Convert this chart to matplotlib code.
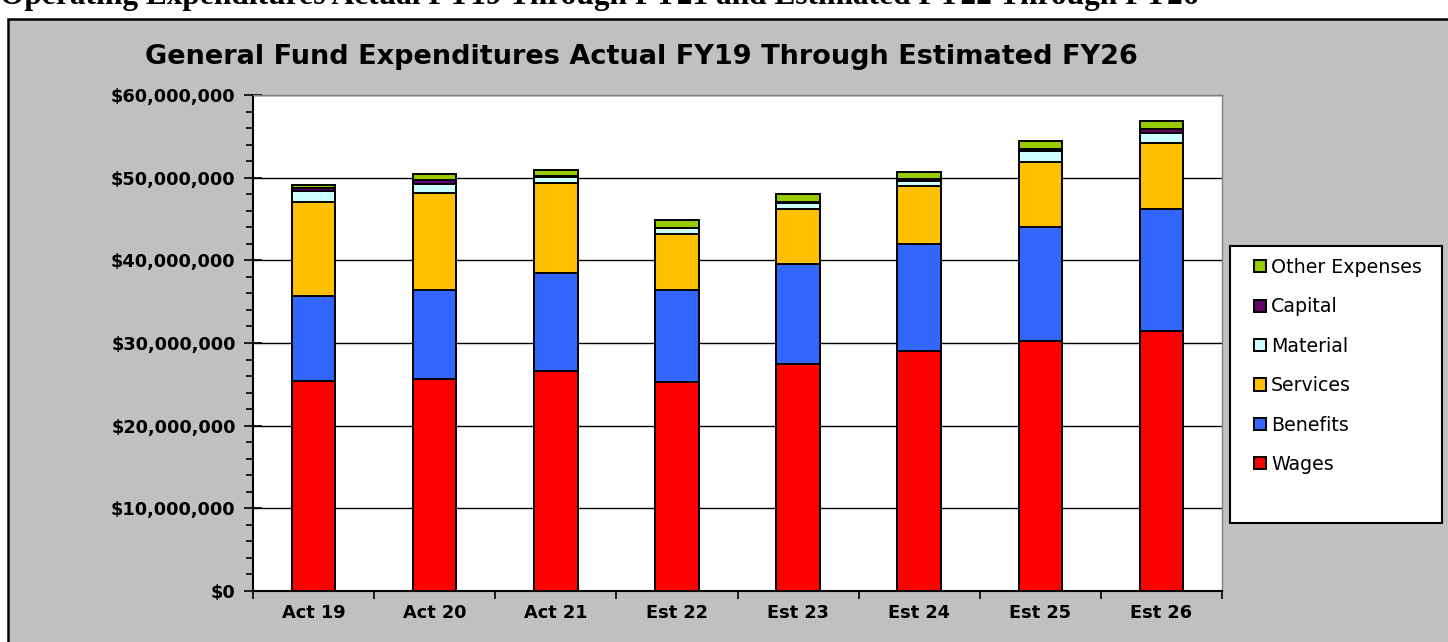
import matplotlib
matplotlib.use("Agg")
import matplotlib.pyplot as plt
import numpy as np
from matplotlib.patches import Rectangle
from matplotlib.ticker import FuncFormatter, MultipleLocator

years = ["Act 19", "Act 20", "Act 21", "Est 22", "Est 23", "Est 24", "Est 25", "Est 26"]

# values in dollars
wages = [25450000, 25700000, 26660000, 25330000, 27400000, 28990000, 30290000, 31420000]
benefits = [10280000, 10760000, 11820000, 11130000, 12160000, 12940000, 13790000, 14830000]
services = [11280000, 11690000, 10920000, 6770000, 6690000, 7100000, 7860000, 7900000]
material = [1420000, 1090000, 720000, 720000, 690000, 520000, 1290000, 1250000]
capital = [330000, 520000, 50000, 0, 160000, 290000, 280000, 490000]
other = [320000, 720000, 730000, 890000, 880000, 850000, 960000, 1000000]

series = [wages, benefits, services, material, capital, other]
names = ["Wages", "Benefits", "Services", "Material", "Capital", "Other Expenses"]
colors = ["#FF0000", "#3366FF", "#FFC000", "#CCFFFF", "#660066", "#99CC00"]

fig = plt.figure(figsize=(14.48, 6.42), dpi=100)
fig.patch.set_facecolor("white")

# grey chart frame
fig.patches.append(Rectangle((8/1448, -0.01), 1.0, 1-19/642+0.01, transform=fig.transFigure,
                             facecolor="#C0C0C0", edgecolor="black", linewidth=1.8, zorder=-2))

# heading of the page, cut off at the top like in the source
fig.text(0.0, 1-4/642, "Operating Expenditures Actual FY19 Through FY21 and Estimated FY22 Through FY26",
         fontsize=22.6, fontweight="bold", family="Liberation Serif", va="baseline", ha="left")

ax = fig.add_axes([253/1448, 1-591/642, (1222-253)/1448, (591-95)/642])
ax.set_facecolor("white")

x = np.arange(len(years))
bottom = np.zeros(len(years))
handles = []
for vals, name, col in zip(series, names, colors):
    b = ax.bar(x, vals, 0.36, bottom=bottom, color=col, edgecolor="black", linewidth=1.4,
               label=name, zorder=3)
    handles.append(b)
    bottom = bottom + np.array(vals)

ax.set_xlim(-0.5, len(years)-0.5)
ax.set_ylim(0, 60000000)
ax.yaxis.set_major_locator(MultipleLocator(10000000))
ax.yaxis.set_minor_locator(MultipleLocator(2000000))
ax.yaxis.set_major_formatter(FuncFormatter(lambda v, p: "${:,.0f}".format(v)))
ax.grid(axis="y", color="black", linewidth=1.0, zorder=1)
ax.set_axisbelow(True)

ax.set_xticks(x)
ax.set_xticklabels(years)
ax.set_xticks(np.arange(len(years)+1)-0.5, minor=True)
ax.tick_params(axis="x", which="major", length=0, pad=9)
ax.tick_params(axis="x", which="minor", length=6, width=1.2, direction="out")
ax.tick_params(axis="y", which="major", length=13, width=1.2, direction="inout", pad=6)
ax.tick_params(axis="y", which="minor", length=5, width=1.2, direction="out")
for lab in ax.get_xticklabels() + ax.get_yticklabels():
    lab.set_fontweight("bold")
    lab.set_fontsize(12.8)

for side in ["top", "right"]:
    ax.spines[side].set_color("#808080")
    ax.spines[side].set_linewidth(1.0)
for side in ["left", "bottom"]:
    ax.spines[side].set_color("black")
    ax.spines[side].set_linewidth(1.5)

fig.text(641/1448, 1-57/642, "General Fund Expenditures Actual FY19 Through Estimated FY26",
         fontsize=19.5, fontweight="bold", ha="center", va="center")

# legend box
fig.patches.append(Rectangle((1230/1448, 1-523/642), (1442-1230)/1448, (523-246)/642,
                             transform=fig.transFigure, facecolor="white", edgecolor="black",
                             linewidth=1.5, zorder=1))
leg = fig.legend(handles[::-1], names[::-1], loc="upper left",
                 bbox_to_anchor=(1237/1448, 1-241/642), frameon=False, fontsize=13.7,
                 handlelength=0.6, handleheight=0.6, handletextpad=0.3, labelspacing=1.07)
leg.set_zorder(2)

fig.savefig("out.png", dpi=100)
